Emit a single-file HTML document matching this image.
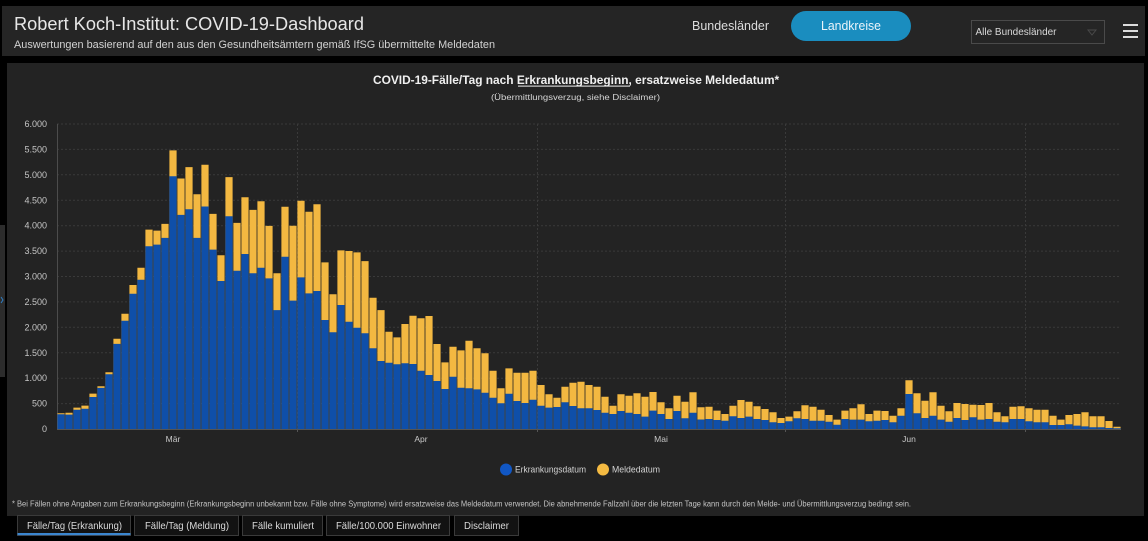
<!DOCTYPE html>
<html><head><meta charset="utf-8"><style>
html,body{margin:0;padding:0;background:#000;}
body{width:1148px;height:541px;overflow:hidden;}
svg{display:block;font-family:"Liberation Sans",Arial,sans-serif;}
</style></head><body>
<svg width="1148" height="541" viewBox="0 0 1148 541" xmlns="http://www.w3.org/2000/svg">
<rect x="0" y="0" width="1148" height="541" fill="#000"/>
<!-- header -->
<rect x="2" y="6" width="1143" height="50" fill="#252525"/>
<text x="14" y="30" font-size="18.2" fill="#e6e6e6" textLength="350" lengthAdjust="spacingAndGlyphs">Robert Koch-Institut: COVID-19-Dashboard</text>
<text x="14" y="48" font-size="10.8" fill="#d2d2d2" textLength="481" lengthAdjust="spacingAndGlyphs">Auswertungen basierend auf den aus den Gesundheitsämtern gemäß IfSG übermittelte Meldedaten</text>
<text x="692" y="30" font-size="12.5" fill="#dcdcdc" textLength="77" lengthAdjust="spacingAndGlyphs">Bundesländer</text>
<rect x="791" y="11" width="120" height="30" rx="15" ry="15" fill="#1a8dbf"/>
<text x="851" y="30" font-size="12.5" fill="#eaf4fa" text-anchor="middle" textLength="60" lengthAdjust="spacingAndGlyphs">Landkreise</text>
<rect x="971.5" y="20.5" width="133" height="23" fill="none" stroke="#4a4a4a" stroke-width="1"/>
<text x="975.5" y="35" font-size="10" fill="#d8d8d8" textLength="81" lengthAdjust="spacingAndGlyphs">Alle Bundesländer</text>
<path d="M1088 30 L1096 30 L1092 35 Z" fill="none" stroke="#4a4a4a" stroke-width="1"/>
<rect x="1123" y="24" width="15" height="2" fill="#dcdcdc"/>
<rect x="1123" y="30" width="15" height="2" fill="#dcdcdc"/>
<rect x="1123" y="36" width="15" height="2" fill="#dcdcdc"/>
<!-- left side strip -->
<rect x="0" y="225" width="5" height="152" fill="#2c2c2c"/>
<path d="M1 297 L3 300 L1 303" fill="none" stroke="#2f7fc8" stroke-width="1"/>
<!-- chart panel -->
<rect x="7" y="63" width="1137" height="453" fill="#232323"/>
<text x="373" y="84" font-size="11.9" font-weight="bold" fill="#f0f0f0">COVID-19-Fälle/Tag nach Erkrankungsbeginn, ersatzweise Meldedatum*</text>
<rect x="518" y="85.6" width="112" height="1" fill="#f0f0f0"/>
<text x="575.5" y="100" font-size="8" fill="#d6d6d6" text-anchor="middle" textLength="169" lengthAdjust="spacingAndGlyphs">(Übermittlungsverzug, siehe Disclaimer)</text>
<!-- grid -->
<g stroke="#3a3a3a" stroke-width="1" stroke-dasharray="2 2" fill="none">
<path d="M57 403.6H1121M57 378.2H1121M57 352.8H1121M57 327.3H1121M57 301.9H1121M57 276.5H1121M57 251.1H1121M57 225.7H1121M57 200.3H1121M57 174.8H1121M57 149.4H1121M57 124H1121"/>
<path d="M297.5 124V429M537.5 124V429M785.5 124V429M1025.5 124V429"/>
</g>
<g font-size="9" fill="#c6c6c6" text-anchor="end">
<text x="47" y="432">0</text>
<text x="47" y="406.6">500</text>
<text x="47" y="381.2">1.000</text>
<text x="47" y="355.8">1.500</text>
<text x="47" y="330.3">2.000</text>
<text x="47" y="304.9">2.500</text>
<text x="47" y="279.5">3.000</text>
<text x="47" y="254.1">3.500</text>
<text x="47" y="228.7">4.000</text>
<text x="47" y="203.3">4.500</text>
<text x="47" y="177.8">5.000</text>
<text x="47" y="152.4">5.500</text>
<text x="47" y="127">6.000</text>
</g>
<path d="M57.5 124V429" stroke="#4c4c4c" stroke-width="1"/>
<!-- bars: yellow totals -->
<path fill="#f3b841" d="M57.4 429
V413.3h7.2V429h.8V412.7h7.2V429h.8V407.6h7.2V429h.8V405.6h7.2V429h.8V393.6h7.2V429h.8V386.3h7.2V429h.8V372.2h7.2V429h.8V338.8h7.2V429h.8V313.8h7.2V429h.8V285.0h7.2V429h.8
V267.7h7.2V429h.8V229.6h7.2V429h.8V230.6h7.2V429h.8V223.9h7.2V429h.8V150.4h7.2V429h.8V178.5h7.2V429h.8V167.1h7.2V429h.8V194.2h7.2V429h.8V164.8h7.2V429h.8V213.9h7.2V429h.8
V255.3h7.2V429h.8V177.1h7.2V429h.8V222.9h7.2V429h.8V197.2h7.2V429h.8V209.9h7.2V429h.8V201.2h7.2V429h.8V225.9h7.2V429h.8V273.3h7.2V429h.8V206.7h7.2V429h.8V225.7h7.2V429h.8
V200.8h7.2V429h.8V211.7h7.2V429h.8V204.3h7.2V429h.8V262.4h7.2V429h.8V294.3h7.2V429h.8V250.4h7.2V429h.8V251.0h7.2V429h.8V252.4h7.2V429h.8V261.1h7.2V429h.8V297.7h7.2V429h.8
V310.1h7.2V429h.8V331.7h7.2V429h.8V337.4h7.2V429h.8V324.0h7.2V429h.8V315.7h7.2V429h.8V318.3h7.2V429h.8V316.0h7.2V429h.8V344.0h7.2V429h.8V362.4h7.2V429h.8V346.7h7.2V429h.8
V350.4h7.2V429h.8V340.7h7.2V429h.8V348.3h7.2V429h.8V353.3h7.2V429h.8V370.7h7.2V429h.8V388.3h7.2V429h.8V368.4h7.2V429h.8V372.7h7.2V429h.8V372.7h7.2V429h.8V370.7h7.2V429h.8
V385.0h7.2V429h.8V394.3h7.2V429h.8V397.7h7.2V429h.8V386.7h7.2V429h.8V382.7h7.2V429h.8V381.7h7.2V429h.8V385.0h7.2V429h.8V386.7h7.2V429h.8V396.7h7.2V429h.8V405.7h7.2V429h.8
V394.3h7.2V429h.8V395.7h7.2V429h.8V393.3h7.2V429h.8V396.7h7.2V429h.8V392.0h7.2V429h.8V402.3h7.2V429h.8V408.3h7.2V429h.8V395.7h7.2V429h.8V401.7h7.2V429h.8V392.2h7.2V429h.8
V407.3h7.2V429h.8V406.7h7.2V429h.8V410.6h7.2V429h.8V414.0h7.2V429h.8V405.7h7.2V429h.8V400.0h7.2V429h.8V401.7h7.2V429h.8V406.3h7.2V429h.8V409.0h7.2V429h.8V412.3h7.2V429h.8
V418.0h7.2V429h.8V416.6h7.2V429h.8V411.3h7.2V429h.8V405.3h7.2V429h.8V406.7h7.2V429h.8V409.7h7.2V429h.8V415.0h7.2V429h.8V419.6h7.2V429h.8V410.6h7.2V429h.8V408.3h7.2V429h.8
V404.3h7.2V429h.8V414.0h7.2V429h.8V410.6h7.2V429h.8V411.0h7.2V429h.8V415.7h7.2V429h.8V408.3h7.2V429h.8V380.3h7.2V429h.8V393.3h7.2V429h.8V400.7h7.2V429h.8V392.3h7.2V429h.8
V405.7h7.2V429h.8V411.3h7.2V429h.8V403.0h7.2V429h.8V404.0h7.2V429h.8V404.7h7.2V429h.8V405.0h7.2V429h.8V403.0h7.2V429h.8V412.3h7.2V429h.8V416.3h7.2V429h.8V406.7h7.2V429h.8
V406.3h7.2V429h.8V408.3h7.2V429h.8V409.7h7.2V429h.8V409.7h7.2V429h.8V415.7h7.2V429h.8V419.6h7.2V429h.8V415.0h7.2V429h.8V414.0h7.2V429h.8V412.3h7.2V429h.8V416.3h7.2V429h.8
V416.3h7.2V429h.8V421.0h7.2V429h.8V426.7h7.2V429z"/>
<!-- bars: blue Erkrankungsdatum -->
<path fill="#0f4fa9" d="M57.4 429
V414.3h7.2V429h.8V414.6h7.2V429h.8V409.7h7.2V429h.8V408.7h7.2V429h.8V397.0h7.2V429h.8V387.9h7.2V429h.8V374.2h7.2V429h.8V343.9h7.2V429h.8V320.8h7.2V429h.8V293.7h7.2V429h.8
V279.7h7.2V429h.8V246.3h7.2V429h.8V244.6h7.2V429h.8V237.9h7.2V429h.8V176.2h7.2V429h.8V214.9h7.2V429h.8V209.2h7.2V429h.8V237.9h7.2V429h.8V206.5h7.2V429h.8V249.6h7.2V429h.8
V281.0h7.2V429h.8V216.2h7.2V429h.8V270.7h7.2V429h.8V254.0h7.2V429h.8V273.3h7.2V429h.8V267.7h7.2V429h.8V278.4h7.2V429h.8V310.1h7.2V429h.8V256.7h7.2V429h.8V300.6h7.2V429h.8
V277.4h7.2V429h.8V293.4h7.2V429h.8V291.0h7.2V429h.8V320.0h7.2V429h.8V332.3h7.2V429h.8V305.0h7.2V429h.8V321.7h7.2V429h.8V327.7h7.2V429h.8V333.3h7.2V429h.8V348.3h7.2V429h.8
V361.0h7.2V429h.8V362.7h7.2V429h.8V364.3h7.2V429h.8V363.3h7.2V429h.8V364.0h7.2V429h.8V370.7h7.2V429h.8V375.0h7.2V429h.8V381.0h7.2V429h.8V389.0h7.2V429h.8V376.7h7.2V429h.8
V387.7h7.2V429h.8V388.3h7.2V429h.8V389.4h7.2V429h.8V392.7h7.2V429h.8V397.7h7.2V429h.8V403.3h7.2V429h.8V393.7h7.2V429h.8V401.0h7.2V429h.8V403.0h7.2V429h.8V399.7h7.2V429h.8
V405.7h7.2V429h.8V407.6h7.2V429h.8V407.0h7.2V429h.8V402.3h7.2V429h.8V406.0h7.2V429h.8V408.3h7.2V429h.8V408.3h7.2V429h.8V410.0h7.2V429h.8V412.7h7.2V429h.8V414.0h7.2V429h.8
V411.0h7.2V429h.8V412.7h7.2V429h.8V414.0h7.2V429h.8V416.6h7.2V429h.8V410.6h7.2V429h.8V414.0h7.2V429h.8V419.0h7.2V429h.8V411.0h7.2V429h.8V418.3h7.2V429h.8V412.8h7.2V429h.8
V419.5h7.2V429h.8V419.0h7.2V429h.8V420.0h7.2V429h.8V420.7h7.2V429h.8V416.3h7.2V429h.8V418.0h7.2V429h.8V416.6h7.2V429h.8V419.0h7.2V429h.8V420.0h7.2V429h.8V422.3h7.2V429h.8
V423.0h7.2V429h.8V421.3h7.2V429h.8V418.3h7.2V429h.8V419.0h7.2V429h.8V420.7h7.2V429h.8V420.7h7.2V429h.8V421.7h7.2V429h.8V424.7h7.2V429h.8V419.0h7.2V429h.8V419.6h7.2V429h.8
V419.6h7.2V429h.8V421.3h7.2V429h.8V420.7h7.2V429h.8V420.0h7.2V429h.8V422.3h7.2V429h.8V415.7h7.2V429h.8V394.0h7.2V429h.8V413.3h7.2V429h.8V418.0h7.2V429h.8V415.7h7.2V429h.8
V419.6h7.2V429h.8V421.7h7.2V429h.8V418.0h7.2V429h.8V420.0h7.2V429h.8V417.3h7.2V429h.8V419.6h7.2V429h.8V419.0h7.2V429h.8V421.7h7.2V429h.8V422.3h7.2V429h.8V419.0h7.2V429h.8
V419.0h7.2V429h.8V421.3h7.2V429h.8V422.3h7.2V429h.8V422.3h7.2V429h.8V425.0h7.2V429h.8V425.0h7.2V429h.8V424.3h7.2V429h.8V425.6h7.2V429h.8V426.4h7.2V429h.8V427.3h7.2V429h.8
V427.3h7.2V429h.8V428.0h7.2V429h.8V428.3h7.2V429z"/>
<path d="M57 429.5H1121" stroke="#555" stroke-width="1"/>
<path d="M297.5 429V432M537.5 429V432M785.5 429V432M1025.5 429V432" stroke="#555" stroke-width="1"/>
<g font-size="8.5" fill="#c8c8c8" text-anchor="middle">
<text x="173" y="442">Mär</text>
<text x="421" y="442">Apr</text>
<text x="661" y="442">Mai</text>
<text x="909" y="442">Jun</text>
</g>
<!-- legend -->
<circle cx="506" cy="469.5" r="6" fill="#1157c4"/>
<text x="515" y="472.5" font-size="9.5" fill="#d4d4d4" textLength="71" lengthAdjust="spacingAndGlyphs">Erkrankungsdatum</text>
<circle cx="603" cy="469.5" r="6" fill="#f4ba42"/>
<text x="612" y="472.5" font-size="9.5" fill="#d4d4d4" textLength="48" lengthAdjust="spacingAndGlyphs">Meldedatum</text>
<!-- footnote -->
<text x="12" y="506.5" font-size="7.8" fill="#c4c4c4" textLength="899" lengthAdjust="spacingAndGlyphs">* Bei Fällen ohne Angaben zum Erkrankungsbeginn (Erkrankungsbeginn unbekannt bzw. Fälle ohne Symptome) wird ersatzweise das Meldedatum verwendet. Die abnehmende Fallzahl über die letzten Tage kann durch den Melde- und Übermittlungsverzug bedingt sein.</text>
<!-- tabs -->
<g stroke="#3a3a3a" stroke-width="1" fill="#121212">
<rect x="17.5" y="515.5" width="113" height="20"/>
<rect x="134.5" y="515.5" width="104" height="20"/>
<rect x="242.5" y="515.5" width="80" height="20"/>
<rect x="326.5" y="515.5" width="123" height="20"/>
<rect x="454.5" y="515.5" width="64" height="20"/>
</g>
<rect x="17.5" y="533" width="113" height="2.2" fill="#3b86cf"/>
<g font-size="9.8" fill="#dadada">
<text x="27" y="529" textLength="95" lengthAdjust="spacingAndGlyphs">Fälle/Tag (Erkrankung)</text>
<text x="145" y="529" textLength="84" lengthAdjust="spacingAndGlyphs">Fälle/Tag (Meldung)</text>
<text x="252" y="529" textLength="62" lengthAdjust="spacingAndGlyphs">Fälle kumuliert</text>
<text x="336" y="529" textLength="105" lengthAdjust="spacingAndGlyphs">Fälle/100.000 Einwohner</text>
<text x="464" y="529" textLength="45" lengthAdjust="spacingAndGlyphs">Disclaimer</text>
</g>
</svg>
</body></html>
